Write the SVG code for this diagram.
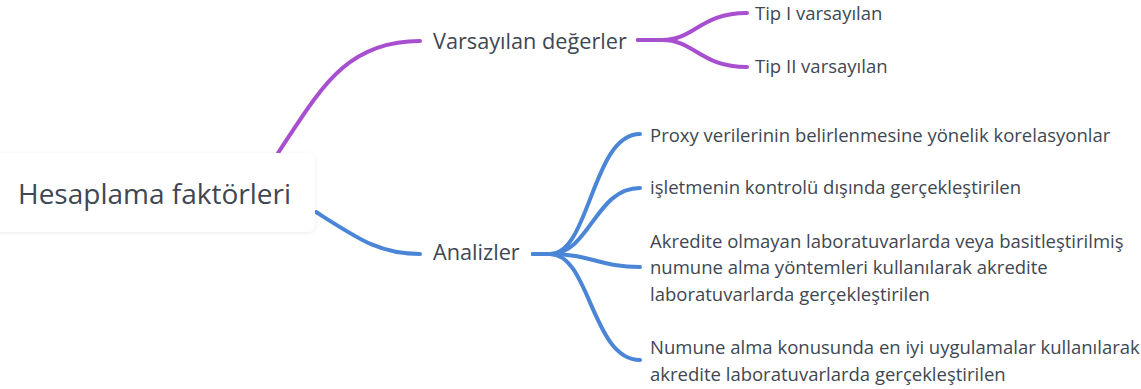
<svg xmlns="http://www.w3.org/2000/svg" width="1141" height="389" viewBox="0 0 1141 389">
<style>
text{font-family:"Open Sans","Noto Sans","Liberation Sans",sans-serif;fill:#3e4752}
.l1{font-size:21.7px}
.l2{font-size:18.5px}
.root{font-size:28px}
.p{fill:none;stroke:#a84fcf;stroke-width:4;stroke-linecap:round}
.b{fill:none;stroke:#4a85d6;stroke-width:4;stroke-linecap:round}
</style>
<defs>
<filter id="sh" x="-10%" y="-20%" width="120%" height="140%">
<feDropShadow dx="0" dy="1" stdDeviation="2" flood-color="#000" flood-opacity="0.08"/>
</filter>
</defs>
<rect width="1141" height="389" fill="#ffffff"/>
<g id="connectors">
<path class="p" d="M278,153 C320,90 345,41 420,41"/>
<path class="p" d="M638,40 L662,40 C695,40 700,13 747,13"/>
<path class="p" d="M638,40 L662,40 C695,40 700,67 747,67"/>
<path class="b" d="M316,212 C360,240 380,254 420,254"/>
<path class="b" d="M533,254 L550,254 C590,254 592,134 640,134"/>
<path class="b" d="M533,254 L550,254 C590,254 595,188 640,188"/>
<path class="b" d="M533,254 L550,254 C590,254 600,267 640,267"/>
<path class="b" d="M533,254 L550,254 C590,254 592,360 640,360"/>
</g>
<g id="root">
<rect x="-10" y="153" width="325" height="79" rx="8" fill="#ffffff" filter="url(#sh)"/>
<text class="root" x="18" y="204">Hesaplama faktörleri</text>
</g>
<g id="varsayilan">
<text class="l1" x="433" y="49">Varsayılan değerler</text>
</g>
<g id="tip1">
<text class="l2" x="755" y="20">Tip I varsayılan</text>
</g>
<g id="tip2">
<text class="l2" x="755" y="73">Tip II varsayılan</text>
</g>
<g id="analizler">
<text class="l1" x="433" y="260">Analizler</text>
</g>
<g id="proxy">
<text class="l2" x="650" y="142">Proxy verilerinin belirlenmesine yönelik korelasyonlar</text>
</g>
<g id="isletme">
<text class="l2" x="650" y="194">işletmenin kontrolü dışında gerçekleştirilen</text>
</g>
<g id="akredite">
<text class="l2" x="650" y="248">Akredite olmayan laboratuvarlarda veya basitleştirilmiş</text>
<text class="l2" x="650" y="274">numune alma yöntemleri kullanılarak akredite</text>
<text class="l2" x="650" y="301">laboratuvarlarda gerçekleştirilen</text>
</g>
<g id="numune">
<text class="l2" x="650" y="354">Numune alma konusunda en iyi uygulamalar kullanılarak</text>
<text class="l2" x="650" y="381">akredite laboratuvarlarda gerçekleştirilen</text>
</g>
</svg>
